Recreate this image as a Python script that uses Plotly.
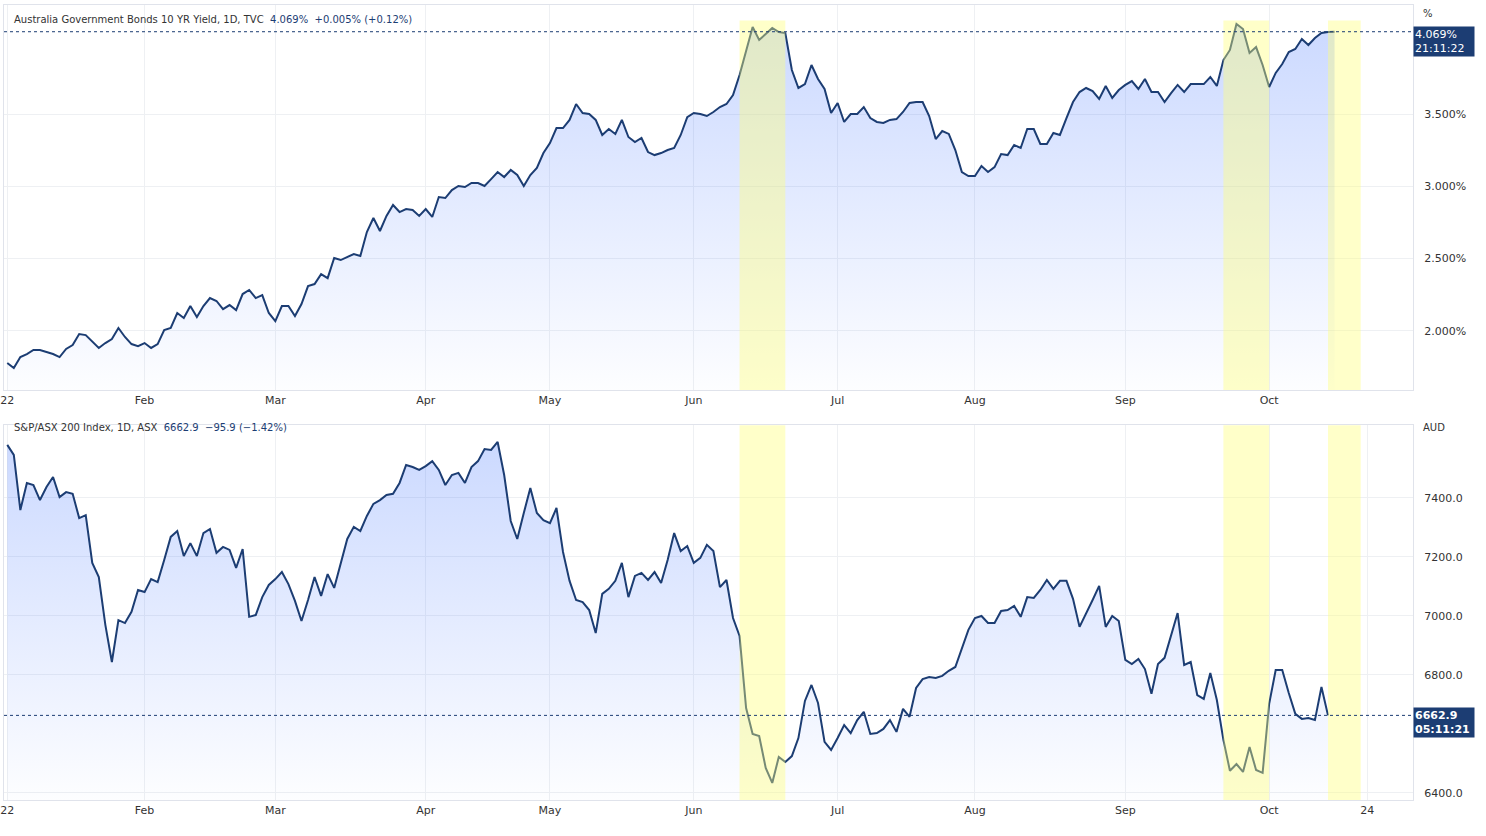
import pandas as pd
import plotly.graph_objects as go
from plotly.subplots import make_subplots

bond_yield = [1.778,1.743,1.819,1.840,1.868,1.868,1.854,1.840,1.819,1.875,1.902,1.978,1.971,1.930,1.882,1.916,1.944,2.020,1.958,1.909,
1.895,1.916,1.882,1.909,2.006,2.020,2.124,2.089,2.172,2.096,2.172,2.227,2.207,2.151,2.179,2.144,2.255,2.283,2.227,2.248,
2.124,2.068,2.172,2.172,2.103,2.186,2.310,2.324,2.393,2.365,2.504,2.490,2.511,2.532,2.518,2.684,2.781,2.691,2.795,2.871,
2.822,2.843,2.836,2.795,2.843,2.788,2.926,2.919,2.974,3.002,2.995,3.023,3.023,3.002,3.050,3.099,3.064,3.113,3.078,3.002,
3.078,3.127,3.230,3.299,3.403,3.403,3.459,3.569,3.507,3.500,3.459,3.355,3.396,3.362,3.459,3.341,3.306,3.334,3.237,3.216,
3.230,3.251,3.265,3.355,3.479,3.507,3.500,3.486,3.514,3.548,3.569,3.631,3.770,3.943,4.102,4.012,4.053,4.095,4.067,4.060,
3.804,3.680,3.707,3.839,3.742,3.673,3.507,3.576,3.445,3.500,3.500,3.548,3.472,3.445,3.438,3.459,3.465,3.514,3.576,3.583,
3.583,3.486,3.327,3.382,3.362,3.251,3.099,3.071,3.071,3.140,3.099,3.133,3.223,3.216,3.286,3.265,3.396,3.396,3.293,3.293,
3.369,3.355,3.472,3.583,3.652,3.680,3.659,3.604,3.694,3.611,3.666,3.701,3.728,3.673,3.742,3.652,3.652,3.583,3.645,3.701,
3.652,3.707,3.707,3.707,3.756,3.694,3.873,3.943,4.122,4.088,3.922,3.963,3.839,3.687,3.784,3.846,3.929,3.950,4.019,3.977,
4.026,4.060,4.067,4.069]

asx200 = [7580,7546,7359,7451,7444,7393,7437,7471,7403,7420,7414,7332,7342,7180,7132,6970,6844,6986,6976,7014,
7088,7081,7125,7115,7190,7268,7288,7203,7247,7203,7281,7295,7214,7234,7224,7163,7227,6997,7003,7064,
7105,7125,7149,7108,7051,6983,7054,7132,7068,7142,7095,7183,7261,7302,7288,7339,7380,7393,7410,7414,
7451,7512,7505,7495,7508,7525,7495,7444,7478,7485,7451,7505,7525,7566,7563,7590,7478,7322,7261,7349,
7434,7349,7325,7315,7366,7217,7119,7054,7047,7020,6942,7075,7092,7119,7180,7064,7136,7146,7122,7149,
7112,7190,7281,7220,7237,7180,7197,7241,7220,7098,7122,6993,6932,6688,6600,6593,6485,6434,6522,6505,
6525,6586,6712,6766,6705,6573,6546,6586,6630,6603,6647,6675,6600,6603,6617,6647,6607,6685,6658,6756,
6786,6793,6790,6797,6814,6827,6891,6953,6993,7000,6976,6976,7017,7020,7034,6997,7064,7061,7088,7122,
7092,7119,7119,7058,6963,7007,7054,7102,6963,7000,6983,6851,6837,6854,6820,6736,6837,6858,6932,7010,
6834,6844,6732,6719,6807,6715,6580,6475,6498,6471,6556,6478,6468,6702,6817,6817,6739,6668,6651,6654,
6647,6759,6662.9]

holidays = ["2022-04-15", "2022-04-18"]
bands = [("2022-06-10", "2022-06-21"), ("2022-09-22", "2022-10-03"), ("2022-10-14", "2022-10-21")]
top_ticks = ["2022-01-03","2022-02-01","2022-03-01","2022-04-01","2022-05-02","2022-06-01","2022-07-01","2022-08-01","2022-09-01","2022-10-03"]
top_text = ["22","Feb","Mar","Apr","May","Jun","Jul","Aug","Sep","Oct"]
bot_ticks = top_ticks + ["2022-10-24"]
bot_text = top_text + ["24"]
y1_range = [1.591, 4.254]
y2_range = [6376, 7647]

bday = pd.offsets.CustomBusinessDay(holidays=holidays)
d1 = pd.date_range("2022-01-03", periods=len(bond_yield), freq=bday)
d2 = pd.date_range("2022-01-03", periods=len(asx200), freq=bday)

NAVY = "#1c3d73"
fig = make_subplots(rows=2, cols=1, vertical_spacing=0.04)
grad = dict(type="vertical", colorscale=[[0, "rgba(41,98,255,0.01)"], [1, "rgba(41,98,255,0.24)"]])
for row, d, v, rng in [(1, d1, bond_yield, y1_range), (2, d2, asx200, y2_range)]:
    fig.add_trace(go.Scatter(x=d, y=[rng[0]] * len(d), mode="lines", line=dict(width=0), hoverinfo="skip",
                             showlegend=False), row=row, col=1)
    fig.add_trace(go.Scatter(x=d, y=v, mode="lines", line=dict(color=NAVY, width=2),
                             fill="tonexty", fillgradient=grad, showlegend=False), row=row, col=1)

for xa, ya in [("x", "y"), ("x2", "y2")]:
    for a, b in bands:
        fig.add_shape(type="rect", xref=xa, yref=ya + " domain", x0=a, x1=b, y0=0, y1=0.96 if ya == "y" else 1,
                      fillcolor="rgba(255,255,120,0.4)", line_width=0, layer="above")

fig.add_shape(type="line", xref="x domain", yref="y", x0=0, x1=1, y0=bond_yield[-1], y1=bond_yield[-1],
              line=dict(color=NAVY, width=1, dash="dot"))
fig.add_shape(type="line", xref="x2 domain", yref="y2", x0=0, x1=1, y0=asx200[-1], y1=asx200[-1],
              line=dict(color=NAVY, width=1, dash="dot"))

axfont = dict(family="Verdana, DejaVu Sans", size=11, color="#333")
common_x = dict(type="date", rangebreaks=[dict(bounds=["sat", "mon"]), dict(values=holidays)],
                showgrid=True, gridcolor="#eef0f3",
                tickfont=axfont, ticks="", showline=True, linecolor="#e0e3eb", mirror=True,
                range=["2021-12-31 12:00", "2022-11-02"])
fig.update_xaxes(**common_x, tickvals=top_ticks, ticktext=top_text, row=1, col=1)
fig.update_xaxes(**common_x, tickvals=bot_ticks, ticktext=bot_text, row=2, col=1)
common_y = dict(side="right", showgrid=True, gridcolor="#eef0f3", tickfont=axfont, ticks="", zeroline=False,
                showline=True, linecolor="#e0e3eb", mirror=True, ticklabelstandoff=8)
fig.update_yaxes(**common_y, range=y1_range, tickvals=[2.0, 2.5, 3.0, 3.5], ticktext=["2.000%","2.500%","3.000%","3.500%"], row=1, col=1)
fig.update_yaxes(**common_y, range=y2_range, tickvals=[6400, 6800, 7000, 7200, 7400], ticktext=["6400.0","6800.0","7000.0","7200.0","7400.0"], row=2, col=1)
fig.update_layout(yaxis=dict(domain=[0.522, 0.9939]), yaxis2=dict(domain=[0.0196, 0.479]))

tfont = dict(family="Verdana, DejaVu Sans", size=10, color="#333")
fig.add_annotation(xref="paper", yref="paper", x=0.006, y=0.985, xanchor="left", yanchor="top", showarrow=False,
    text="Australia Government Bonds 10 YR Yield, 1D, TVC  <span style='color:#1c3d73'>4.069%  +0.005% (+0.12%)</span>", font=tfont)
fig.add_annotation(xref="paper", yref="paper", x=0.006, y=0.485, xanchor="left", yanchor="top", showarrow=False,
    text="S&P/ASX 200 Index, 1D, ASX  <span style='color:#1c3d73'>6662.9  −95.9 (−1.42%)</span>", font=tfont)
fig.add_annotation(xref="paper", yref="paper", x=1.0, y=0.993, xanchor="left", yanchor="top", showarrow=False, xshift=8, text="%", font=tfont)
fig.add_annotation(xref="paper", yref="paper", x=1.0, y=0.485, xanchor="left", yanchor="top", showarrow=False, xshift=8, text="AUD", font=tfont)
lbl = dict(family="Verdana, DejaVu Sans", size=11, color="white")
fig.add_annotation(xref="paper", yref="y", x=1.0, y=bond_yield[-1], xanchor="left", yanchor="top", yshift=6, showarrow=False,
    text="4.069%<br>21:11:22", bgcolor=NAVY, font=lbl, align="left", width=58)
fig.add_annotation(xref="paper", yref="y2", x=1.0, y=asx200[-1], xanchor="left", yanchor="top", yshift=8, showarrow=False,
    text="<b>6662.9</b><br><b>05:11:21</b>", bgcolor=NAVY, font=lbl, align="left", width=58)

fig.update_layout(width=1486, height=836, margin=dict(l=4, r=73, t=0, b=20, autoexpand=False),
                  plot_bgcolor="white", paper_bgcolor="white")
fig.write_html("out.html", config={"displayModeBar": False}, post_script="document.body.style.margin='0';")
